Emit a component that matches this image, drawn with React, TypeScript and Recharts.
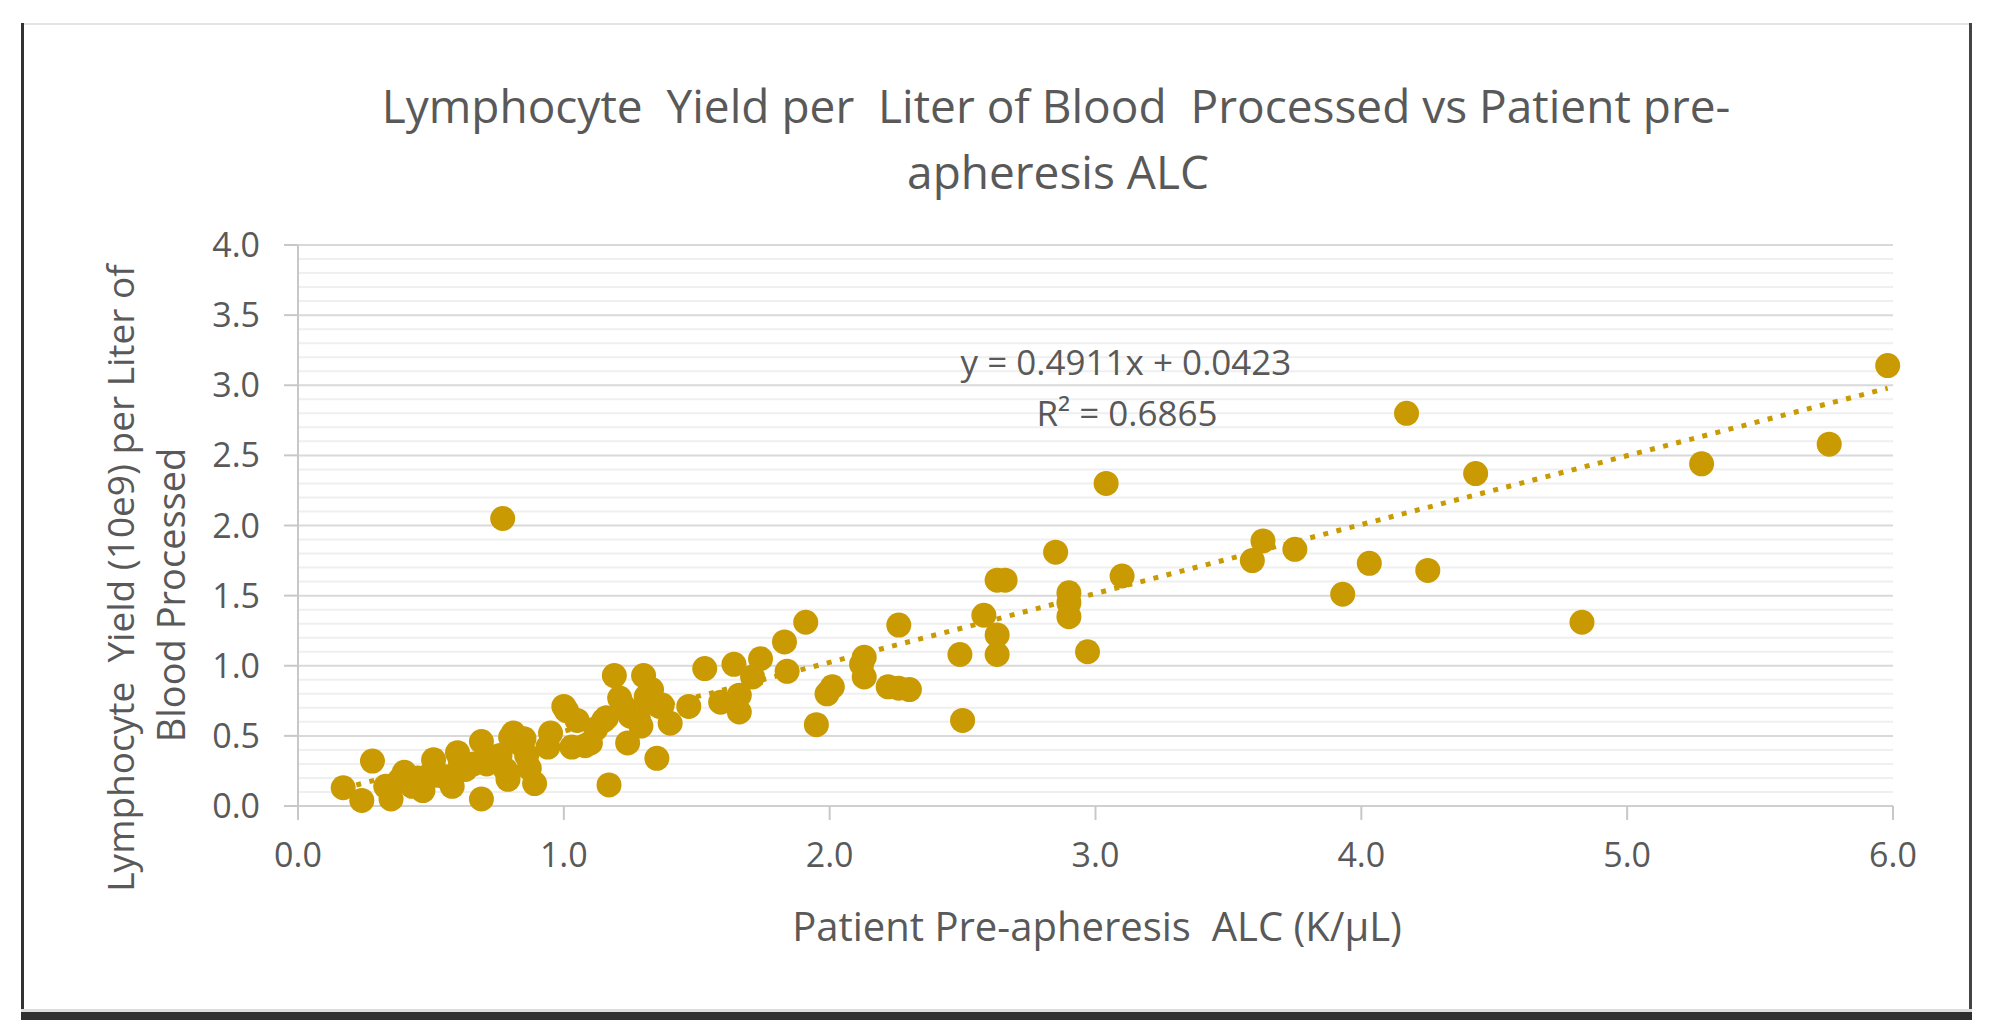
import React from 'react'
import { ScatterChart, Scatter, XAxis, YAxis, CartesianGrid, ReferenceLine } from 'recharts'

// patient pre-apheresis ALC (K/uL)
const ALC = [
  0.17, 0.24, 0.28, 0.33, 0.35, 0.38, 0.40, 0.43, 0.45, 0.47,
  0.51, 0.52, 0.55, 0.58, 0.60, 0.61, 0.63, 0.66, 0.69, 0.69,
  0.71, 0.73, 0.76, 0.77, 0.78, 0.79, 0.80, 0.81, 0.83, 0.85,
  0.86, 0.87, 0.89, 0.94, 0.95, 1.00, 1.01, 1.03, 1.05, 1.08,
  1.10, 1.12, 1.15, 1.16, 1.17, 1.19, 1.21, 1.23, 1.24, 1.25,
  1.28, 1.29, 1.30, 1.31, 1.33, 1.35, 1.36, 1.37, 1.40, 1.47,
  1.53, 1.59, 1.64, 1.66, 1.66, 1.71, 1.74, 1.83, 1.84, 1.91,
  1.95, 1.99, 2.01, 2.12, 2.13, 2.13, 2.22, 2.26, 2.30, 2.26,
  2.49, 2.50, 2.58, 2.63, 2.63, 2.63, 2.66, 2.85, 2.90, 2.90,
  2.90, 2.97, 3.04, 3.10, 3.59, 3.63, 3.75, 3.93, 4.03, 4.17,
  4.25, 4.43, 4.83, 5.28, 5.76, 5.98,
]

// lymphocyte yield (10e9) per liter of blood processed
const YIELD = [
  0.13, 0.04, 0.32, 0.14, 0.05, 0.18, 0.24, 0.14, 0.20, 0.11,
  0.33, 0.22, 0.21, 0.14, 0.38, 0.28, 0.26, 0.30, 0.46, 0.05,
  0.30, 0.35, 0.36, 2.05, 0.26, 0.19, 0.49, 0.52, 0.45, 0.48,
  0.36, 0.27, 0.16, 0.42, 0.52, 0.71, 0.68, 0.42, 0.61, 0.43,
  0.45, 0.55, 0.61, 0.63, 0.15, 0.93, 0.77, 0.70, 0.45, 0.64,
  0.63, 0.57, 0.93, 0.78, 0.83, 0.34, 0.71, 0.72, 0.59, 0.71,
  0.98, 0.74, 1.01, 0.79, 0.67, 0.92, 1.05, 1.17, 0.96, 1.31,
  0.58, 0.80, 0.85, 1.01, 1.06, 0.92, 0.85, 0.84, 0.83, 1.29,
  1.08, 0.61, 1.36, 1.22, 1.08, 1.61, 1.61, 1.81, 1.52, 1.45,
  1.35, 1.10, 2.30, 1.64, 1.75, 1.89, 1.83, 1.51, 1.73, 2.80,
  1.68, 2.37, 1.31, 2.44, 2.58, 3.14,
]

const X_TICKS = [0, 1, 2, 3, 4, 5, 6]
const Y_TICKS = [0, 0.5, 1, 1.5, 2, 2.5, 3, 3.5, 4]
const Y_MINOR = [
  0.1, 0.2, 0.3, 0.4, 0.6, 0.7, 0.8, 0.9, 1.1, 1.2, 1.3, 1.4, 1.6, 1.7, 1.8, 1.9,
  2.1, 2.2, 2.3, 2.4, 2.6, 2.7, 2.8, 2.9, 3.1, 3.2, 3.3, 3.4, 3.6, 3.7, 3.8, 3.9,
]

const SLOPE = 0.4911
const INTERCEPT = 0.0423

const GOLD = '#C99A02'
const TEXT = '#595959'
const FONT = '"Open Sans", "Liberation Sans", sans-serif'

const data = ALC.map((x, i) => ({ x, y: YIELD[i] }))
const xMin = Math.min(...ALC)
const xMax = Math.max(...ALC)

function Txt({ x, y, size, children, rotate }: any) {
  return (
    <div
      style={{
        position: 'absolute',
        left: x,
        top: y,
        transform: `translate(-50%, -50%)${rotate ? ' rotate(-90deg)' : ''}`,
        whiteSpace: 'pre',
        fontFamily: FONT,
        fontSize: size,
        lineHeight: 1,
        color: TEXT,
      }}
    >
      {children}
    </div>
  )
}

export default function App() {
  return (
    <div style={{ position: 'absolute', left: 0, top: 0, width: 2008, height: 1036, background: '#fff' }}>
      {/* frame */}
      <div style={{ position: 'absolute', left: 21, top: 23, width: 1950, height: 2, background: '#e4e4e4' }} />
      <div style={{ position: 'absolute', left: 21, top: 23, width: 3, height: 997, background: '#333' }} />
      <div style={{ position: 'absolute', left: 1969, top: 23, width: 3, height: 997, background: '#444' }} />
      <div style={{ position: 'absolute', left: 21, top: 1009, width: 1951, height: 3, background: '#ddd' }} />
      <div style={{ position: 'absolute', left: 21, top: 1012, width: 1951, height: 8, background: '#2f2f2f' }} />

      <div style={{ position: 'absolute', left: 0, top: 0 }}>
        <ScatterChart width={2008} height={1036} margin={{ top: 245, right: 115, bottom: 170, left: 228 }}>
          {Y_MINOR.map((v) => (
            <ReferenceLine key={v} y={v} stroke="#efefef" strokeWidth={2} />
          ))}
          <CartesianGrid vertical={false} stroke="#d9d9d9" strokeWidth={2} />
          <XAxis
            type="number"
            dataKey="x"
            domain={[0, 6]}
            ticks={X_TICKS}
            tickFormatter={(v) => v.toFixed(1)}
            height={60}
            tickSize={14}
            tickMargin={23}
            axisLine={{ stroke: '#d0d0d0', strokeWidth: 2 }}
            tickLine={{ stroke: '#c8c8c8', strokeWidth: 2 }}
            tick={{ fill: TEXT, fontSize: 34, fontFamily: FONT }}
          />
          <YAxis
            type="number"
            dataKey="y"
            domain={[0, 4]}
            ticks={Y_TICKS}
            tickFormatter={(v) => v.toFixed(1)}
            width={70}
            tickSize={14}
            tickMargin={24}
            axisLine={{ stroke: '#c8c8c8', strokeWidth: 2 }}
            tickLine={{ stroke: '#c8c8c8', strokeWidth: 2 }}
            tick={{ fill: TEXT, fontSize: 34, fontFamily: FONT }}
          />
          <Scatter
            data={data}
            fill={GOLD}
            isAnimationActive={false}
            shape={(p: any) => <circle cx={p.cx} cy={p.cy} r={12.5} fill={GOLD} />}
          />
          <ReferenceLine
            segment={[
              { x: xMin, y: SLOPE * xMin + INTERCEPT },
              { x: xMax, y: SLOPE * xMax + INTERCEPT },
            ]}
            stroke={GOLD}
            strokeWidth={5}
            strokeDasharray="5 8.5"
          />
        </ScatterChart>
      </div>

      <Txt x={1056} y={105} size={46}>Lymphocyte  Yield per  Liter of Blood  Processed vs Patient pre-</Txt>
      <Txt x={1058} y={171} size={46}>apheresis ALC</Txt>
      <Txt x={1126} y={361} size={35}>y = 0.4911x + 0.0423</Txt>
      <Txt x={1127} y={412} size={35}>R² = 0.6865</Txt>
      <Txt x={1097} y={926} size={40}>Patient Pre-apheresis  ALC (K/µL)</Txt>
      <Txt x={119} y={578} size={37} rotate>Lymphocyte  Yield (10e9) per Liter of</Txt>
      <Txt x={170} y={595} size={38} rotate>Blood Processed</Txt>
    </div>
  )
}
